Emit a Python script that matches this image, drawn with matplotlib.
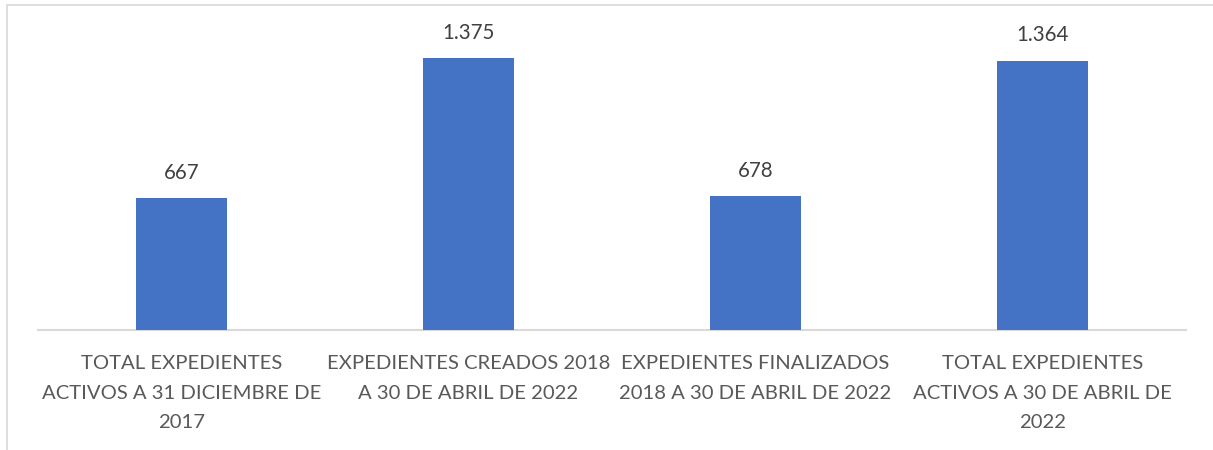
import matplotlib.pyplot as plt
from matplotlib.patches import Rectangle

categorias = [
    "TOTAL EXPEDIENTES\nACTIVOS A 31 DICIEMBRE DE\n2017",
    "EXPEDIENTES CREADOS 2018\nA 30 DE ABRIL DE 2022",
    "EXPEDIENTES FINALIZADOS\n2018 A 30 DE ABRIL DE 2022",
    "TOTAL EXPEDIENTES\nACTIVOS A 30 DE ABRIL DE\n2022",
]
valores = [667, 1375, 678, 1364]
etiquetas = ["667", "1.375", "678", "1.364"]

azul = "#4472C4"
gris_texto = "#595959"

plt.rcParams["font.family"] = ["Lato", "DejaVu Sans"]

fig = plt.figure(figsize=(12.13, 4.5), dpi=100)
ax = fig.add_axes([38 / 1213, 120 / 450, 1148 / 1213, 316 / 450])

x = list(range(len(valores)))
ax.bar(x, valores, width=0.314, color=azul, zorder=3)
ax.set_xlim(-0.5, len(valores) - 0.5)
ax.set_ylim(0, 1600)

for xi, v, t in zip(x, valores, etiquetas):
    ax.annotate(t, (xi, v), xytext=(0, 11), textcoords="offset points",
                ha="center", va="bottom", fontsize=14.8, color="#404040")

ax.set_xticks(x)
ax.set_xticklabels(categorias, fontsize=14.6, color=gris_texto, linespacing=1.9)
ax.tick_params(axis="x", length=0, pad=18)
ax.set_yticks([])
for s in ["top", "right", "left"]:
    ax.spines[s].set_visible(False)
ax.spines["bottom"].set_color("#D9D9D9")
ax.spines["bottom"].set_linewidth(1.5)

# borde del gráfico (solo visible arriba e izquierda)
fig.patches.append(Rectangle((7 / 1213, -0.1), 1.2, (445 / 450) + 0.1,
                             transform=fig.transFigure, fill=False,
                             edgecolor="#D9D9D9", linewidth=1.2))

fig.savefig("out.png", dpi=100)
